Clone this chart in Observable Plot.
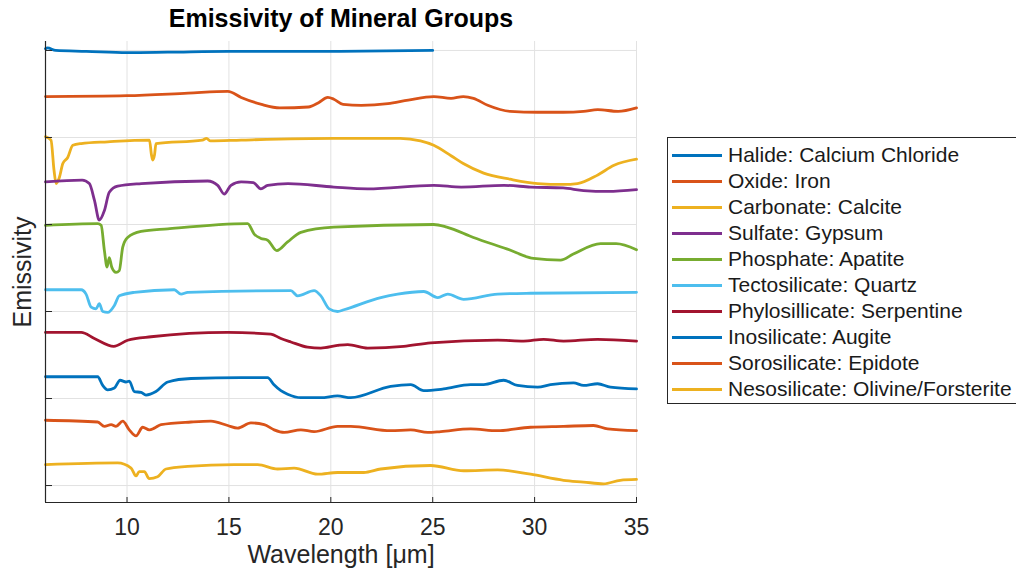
<!DOCTYPE html>
<html>
<head>
<meta charset="utf-8">
<script src="https://cdn.jsdelivr.net/npm/d3@7"></script>
<script src="https://cdn.jsdelivr.net/npm/@observablehq/plot@0.6"></script>
<style>
  html, body { margin: 0; padding: 0; background: #fff; overflow: hidden; }
  #wrap { position: relative; width: 1016px; height: 573px; overflow: hidden;
          font-family: "Liberation Sans", Arial, Helvetica, sans-serif; }
  #legend { position: absolute; left: 667px; top: 137px; width: 380px; height: 267px;
            box-sizing: border-box; border: 1px solid #262626; background: #fff;
            padding-top: 4px; }
  .row { display: flex; align-items: center; height: 26px; font-size: 21px; color: #1a1a1a; white-space: nowrap; }
  .sw { width: 50px; height: 3px; margin-left: 4px; margin-right: 6px; flex: none; }
</style>
</head>
<body>
<div id="wrap"><div id="chart"></div><div id="legend"></div></div>
<script>
// ---- Data (wavelength in µm, offset emissivity) ----
const title = "Emissivity of Mineral Groups";
const xLabel = "Wavelength [μm]";
const yLabel = "Emissivity";
const xTicks = [10, 15, 20, 25, 30, 35];
const yTicks = [0, 1, 2, 3, 4, 5];
const xDomain = [6, 35];
const yDomain = [-0.195, 5.103];

const seriesNames = [
  "Halide: Calcium Chloride",
  "Oxide: Iron",
  "Carbonate: Calcite",
  "Sulfate: Gypsum",
  "Phosphate: Apatite",
  "Tectosilicate: Quartz",
  "Phylosillicate: Serpentine",
  "Inosilicate: Augite",
  "Sorosilicate: Epidote",
  "Nesosilicate: Olivine/Forsterite"
];
const seriesColors = ["#0072BD", "#D95319", "#EDB120", "#7E2F8E", "#77AC30",
                      "#4DBEEE", "#A2142F", "#0072BD", "#D95319", "#EDB120"];

const halide = [[6.0,5.02],[6.1,5.03],[6.5,5.00],[8,4.99],[10,4.975],[12,4.98],[15,4.99],[20,4.99],[25.0,5.00]];

const oxide = [[6.0,4.47],[10,4.48],[13,4.51],[14.95,4.53],[15.6,4.46],[16.6,4.38],[17.5,4.34],[18.9,4.35],
  [19.4,4.40],[19.85,4.46],[20.15,4.44],[20.6,4.38],[21.5,4.37],[22.8,4.39],[23.8,4.43],[25.05,4.47],
  [25.9,4.45],[26.5,4.47],[27.0,4.45],[27.7,4.37],[28.8,4.30],[30.15,4.29],[31.4,4.29],[32.4,4.30],
  [33.1,4.32],[34.1,4.30],[35,4.34]];

const carbonate = [[6.0,4.01],[6.27,3.97],[6.42,3.62],[6.52,3.47],[6.68,3.54],[6.85,3.70],[7.09,3.77],
  [7.34,3.91],[7.75,3.93],[9.05,3.95],[11.1,3.97],[11.2,3.80],[11.26,3.74],[11.35,3.80],[11.42,3.93],
  [13.7,3.97],[13.9,3.99],[14.1,3.96],[15.6,3.97],[20.15,3.99],[23.4,3.99],[24.4,3.96],[25.05,3.91],
  [25.9,3.79],[26.5,3.70],[27.5,3.59],[28.8,3.52],[30.15,3.47],[31.4,3.46],[32.1,3.47],[33.1,3.57],
  [33.9,3.68],[35,3.75]];

const sulfate = [[6.0,3.49],[7.8,3.51],[8.15,3.47],[8.4,3.28],[8.64,3.05],[8.89,3.16],[9.13,3.37],
  [9.54,3.44],[10.7,3.47],[13.96,3.50],[14.45,3.45],[14.77,3.35],[15.1,3.45],[15.6,3.49],[16.2,3.48],
  [16.57,3.41],[16.9,3.45],[17.9,3.47],[20.15,3.43],[21.8,3.41],[25.05,3.45],[26.4,3.43],[28.5,3.45],
  [29.8,3.43],[31.4,3.42],[32.4,3.39],[33.6,3.38],[35,3.40]];

const phosphate = [[6.0,2.99],[8.56,3.01],[8.73,2.99],[8.89,2.70],[9.02,2.51],[9.13,2.62],[9.25,2.51],
  [9.46,2.45],[9.62,2.47],[9.79,2.74],[10.03,2.85],[10.69,2.92],[12.0,2.95],[15.92,3.01],[16.24,2.89],
  [16.57,2.84],[16.9,2.82],[17.35,2.70],[17.88,2.80],[18.53,2.91],[20.15,2.97],[25.05,3.00],[25.69,2.97],
  [27.0,2.85],[28.63,2.72],[29.95,2.61],[31.27,2.59],[31.9,2.66],[33.24,2.78],[34.0,2.78],[35,2.71]];

const tectosilicate = [[6.0,2.25],[7.75,2.25],[7.99,2.20],[8.24,2.05],[8.48,2.03],[8.64,2.09],[8.81,2.00],
  [9.05,1.99],[9.38,2.07],[9.62,2.18],[10.36,2.22],[12.32,2.25],[12.65,2.20],[12.98,2.22],[18.04,2.24],
  [18.37,2.18],[19.18,2.24],[19.51,2.18],[19.92,2.03],[20.33,2.00],[20.64,2.02],[22.45,2.16],[23.28,2.20],
  [24.56,2.23],[25.25,2.16],[25.74,2.20],[26.52,2.14],[28.19,2.20],[29.8,2.21],[35,2.22]];

const phylosilicate = [[6.0,1.76],[7.75,1.76],[8.4,1.69],[9.35,1.60],[10.03,1.67],[11.18,1.71],[14.94,1.76],
  [17.06,1.74],[17.55,1.69],[18.04,1.65],[18.86,1.59],[19.51,1.58],[20.33,1.61],[20.83,1.62],[21.81,1.58],
  [23.58,1.60],[24.9,1.64],[28.19,1.67],[29.46,1.66],[30.44,1.68],[31.42,1.66],[33.09,1.68],[35,1.66]];

const inosilicate = [[6.0,1.25],[8.56,1.25],[8.81,1.15],[9.05,1.10],[9.38,1.12],[9.66,1.21],[9.95,1.19],
  [10.11,1.20],[10.36,1.08],[10.69,1.07],[10.93,1.04],[11.42,1.08],[12.0,1.19],[13.14,1.23],[15.59,1.24],
  [16.9,1.24],[17.2,1.16],[17.55,1.09],[17.88,1.05],[18.53,1.01],[19.51,1.01],[20.33,1.03],[20.98,1.01],
  [22.94,1.14],[23.92,1.16],[24.56,1.09],[25.54,1.11],[26.86,1.16],[27.5,1.16],[28.48,1.21],[29.16,1.15],
  [30.15,1.13],[30.78,1.16],[31.91,1.18],[32.4,1.15],[33.09,1.17],[33.72,1.13],[35,1.11]];

const sorosilicate = [[6.0,0.75],[8.56,0.73],[8.89,0.68],[9.22,0.70],[9.46,0.68],[9.79,0.74],[10.11,0.64],
  [10.44,0.57],[10.77,0.67],[11.09,0.64],[11.34,0.66],[11.67,0.70],[13.14,0.73],[14.12,0.74],[14.94,0.69],
  [15.43,0.66],[16.08,0.72],[16.73,0.70],[17.22,0.64],[17.71,0.61],[18.53,0.64],[19.18,0.62],[20.33,0.68],
  [20.98,0.68],[22.94,0.63],[23.92,0.64],[24.76,0.61],[25.4,0.62],[26.86,0.65],[28.19,0.63],[29.8,0.67],
  [31.42,0.68],[32.89,0.69],[33.58,0.65],[35,0.63]];

const nesosilicate = [[6.0,0.24],[9.54,0.26],[10.2,0.20],[10.44,0.11],[10.6,0.16],[10.85,0.16],[11.09,0.08],
  [11.5,0.10],[11.91,0.19],[12.98,0.22],[15.26,0.24],[16.41,0.24],[17.39,0.19],[18.2,0.20],[19.35,0.13],
  [20.33,0.15],[21.62,0.15],[22.45,0.19],[24.9,0.23],[26.52,0.17],[28.19,0.18],[29.8,0.13],[31.42,0.06],
  [32.4,0.04],[33.38,0.02],[34.2,0.06],[35,0.07]];

const seriesData = [halide, oxide, carbonate, sulfate, phosphate, tectosilicate,
                    phylosilicate, inosilicate, sorosilicate, nesosilicate];

// ---- Build table ----
const rows = seriesData.flatMap((s, i) => s.map(([x, y]) => ({series: seriesNames[i], idx: i, x, y})));

const axisColor = "#262626";
const gridColor = "#e2e2e2";

const chart = Plot.plot({
  width: 1016,
  height: 573,
  marginLeft: 45,
  marginRight: 380,
  marginTop: 41,
  marginBottom: 71,
  style: {fontFamily: '"Liberation Sans", Arial, Helvetica, sans-serif', background: "#fff", overflow: "visible"},
  x: {domain: xDomain},
  y: {domain: yDomain},
  marks: [
    Plot.gridX(xTicks, {stroke: gridColor, strokeOpacity: 1, strokeWidth: 1}),
    Plot.gridY(yTicks, {stroke: gridColor, strokeOpacity: 1, strokeWidth: 1}),
    Plot.line(rows, {x: "x", y: "y", z: "idx", stroke: (d) => seriesColors[d.idx], curve: "monotone-x",
                     strokeWidth: 2.8, strokeLinejoin: "round", strokeLinecap: "round"}),
    Plot.ruleX([xDomain[0]], {stroke: axisColor, strokeWidth: 1.2}),
    Plot.ruleY([yDomain[0]], {stroke: axisColor, strokeWidth: 1.2}),
    Plot.axisX(xTicks, {anchor: "bottom", tickSize: 0, tickPadding: 16, fontSize: 23,
                        color: axisColor, label: null}),
    Plot.axisX(xTicks, {anchor: "top", tickSize: 6, dy: 461, tickFormat: () => "",
                        color: axisColor, label: null}),
    Plot.axisY(yTicks, {anchor: "right", tickSize: 6, dx: -591, tickFormat: () => "",
                        color: axisColor, label: null}),
    Plot.text([title], {frameAnchor: "top", dy: -23, lineAnchor: "middle", textAnchor: "middle",
                        fontSize: 25, fontWeight: "bold", fill: "#000"}),
    Plot.text([xLabel], {frameAnchor: "bottom", dy: 52, lineAnchor: "middle", textAnchor: "middle",
                         fontSize: 25, fill: axisColor}),
    Plot.text([yLabel], {frameAnchor: "left", dx: -23, lineAnchor: "middle", textAnchor: "middle",
                         rotate: -90, fontSize: 25, fill: axisColor})
  ]
});
document.getElementById("chart").appendChild(chart);

// ---- Legend ----
const legend = document.getElementById("legend");
seriesNames.forEach((name, i) => {
  const row = document.createElement("div");
  row.className = "row";
  const sw = document.createElement("span");
  sw.className = "sw";
  sw.style.background = seriesColors[i];
  const label = document.createElement("span");
  label.textContent = name;
  row.appendChild(sw);
  row.appendChild(label);
  legend.appendChild(row);
});
</script>
</body>
</html>
